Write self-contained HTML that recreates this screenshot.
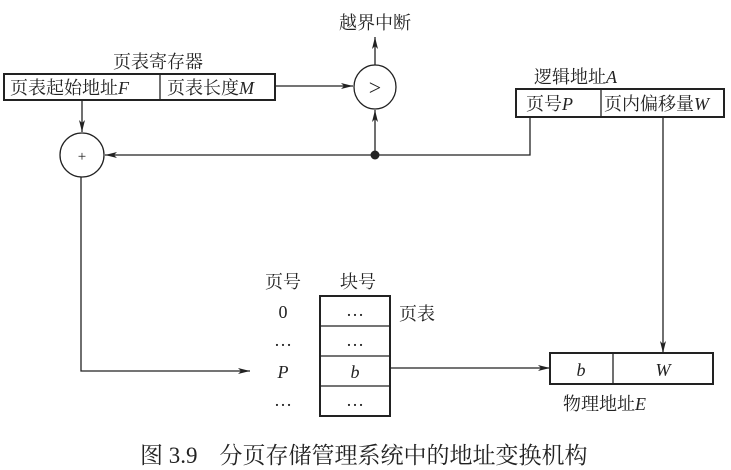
<!DOCTYPE html>
<html><head><meta charset="utf-8"><style>
body{margin:0;background:#fff;}
svg{display:block;}
text{font-family:"Liberation Serif","Noto Serif CJK SC","Noto Sans CJK SC",serif;fill:#222;}
.i{font-style:italic;}
</style></head><body>
<svg width="731" height="470" viewBox="0 0 731 470" xmlns="http://www.w3.org/2000/svg">
<defs><marker id="a" markerWidth="12" markerHeight="8" refX="12" refY="4" orient="auto" markerUnits="userSpaceOnUse"><path d="M0,1 L12,4 L0,7 L3,4 Z" fill="#222"/></marker></defs>
<g stroke="#222" fill="none" stroke-width="1.3">
<rect x="4" y="74" width="271" height="26" stroke-width="2"/>
<line x1="160" y1="74" x2="160" y2="100"/>
<rect x="516" y="89" width="208" height="28" stroke-width="2"/>
<line x1="601" y1="89" x2="601" y2="117"/>
<ellipse cx="375" cy="87" rx="21" ry="22"/>
<ellipse cx="82" cy="155" rx="22" ry="22"/>
<line x1="275" y1="86" x2="353" y2="86" marker-end="url(#a)"/>
<line x1="375" y1="65" x2="375" y2="37" marker-end="url(#a)"/>
<line x1="375" y1="155" x2="375" y2="110" marker-end="url(#a)"/>
<polyline points="530,117 530,155 105,155" marker-end="url(#a)"/>
<line x1="82" y1="100" x2="82" y2="132" marker-end="url(#a)"/>
<polyline points="81,177 81,371 250,371" marker-end="url(#a)"/>
<line x1="663" y1="117" x2="663" y2="353" marker-end="url(#a)"/>
<rect x="320" y="296" width="70" height="120" stroke-width="2"/>
<line x1="320" y1="326" x2="390" y2="326"/>
<line x1="320" y1="356" x2="390" y2="356"/>
<line x1="320" y1="386" x2="390" y2="386"/>
<line x1="390" y1="368" x2="550" y2="368" marker-end="url(#a)"/>
<rect x="550" y="353" width="163" height="31" stroke-width="2"/>
<line x1="613" y1="353" x2="613" y2="384"/>
</g>
<circle cx="375" cy="155" r="4.5" fill="#222"/>
<g font-size="18">
<text x="375" y="29" text-anchor="middle">越界中断</text>
<text x="158" y="68" text-anchor="middle">页表寄存器</text>
<text x="10" y="94">页表起始地址<tspan class="i">F</tspan></text>
<text x="167" y="94">页表长度<tspan class="i">M</tspan></text>
<text x="375" y="95" text-anchor="middle" font-size="22">&gt;</text>
<text x="82" y="161" text-anchor="middle" font-size="15">+</text>
<text x="534" y="83">逻辑地址<tspan class="i">A</tspan></text>
<text x="526" y="110">页号<tspan class="i">P</tspan></text>
<text x="604" y="110">页内偏移量<tspan class="i">W</tspan></text>
<text x="283" y="288" text-anchor="middle">页号</text>
<text x="358" y="288" text-anchor="middle">块号</text>
<text x="283" y="318" text-anchor="middle">0</text>
<text x="283" y="346" text-anchor="middle">…</text>
<text x="283" y="378" text-anchor="middle" class="i">P</text>
<text x="283" y="406" text-anchor="middle">…</text>
<text x="355" y="316" text-anchor="middle">…</text>
<text x="355" y="346" text-anchor="middle">…</text>
<text x="355" y="378" text-anchor="middle" class="i">b</text>
<text x="355" y="406" text-anchor="middle">…</text>
<text x="399" y="320">页表</text>
<text x="581" y="376" text-anchor="middle" class="i">b</text>
<text x="663" y="376" text-anchor="middle" class="i">W</text>
<text x="563" y="410">物理地址<tspan class="i">E</tspan></text>
</g>
<text x="140" y="463" font-size="23">图 3.9<tspan dx="22">分页存储管理系统中的地址变换机构</tspan></text>
</svg>
</body></html>
